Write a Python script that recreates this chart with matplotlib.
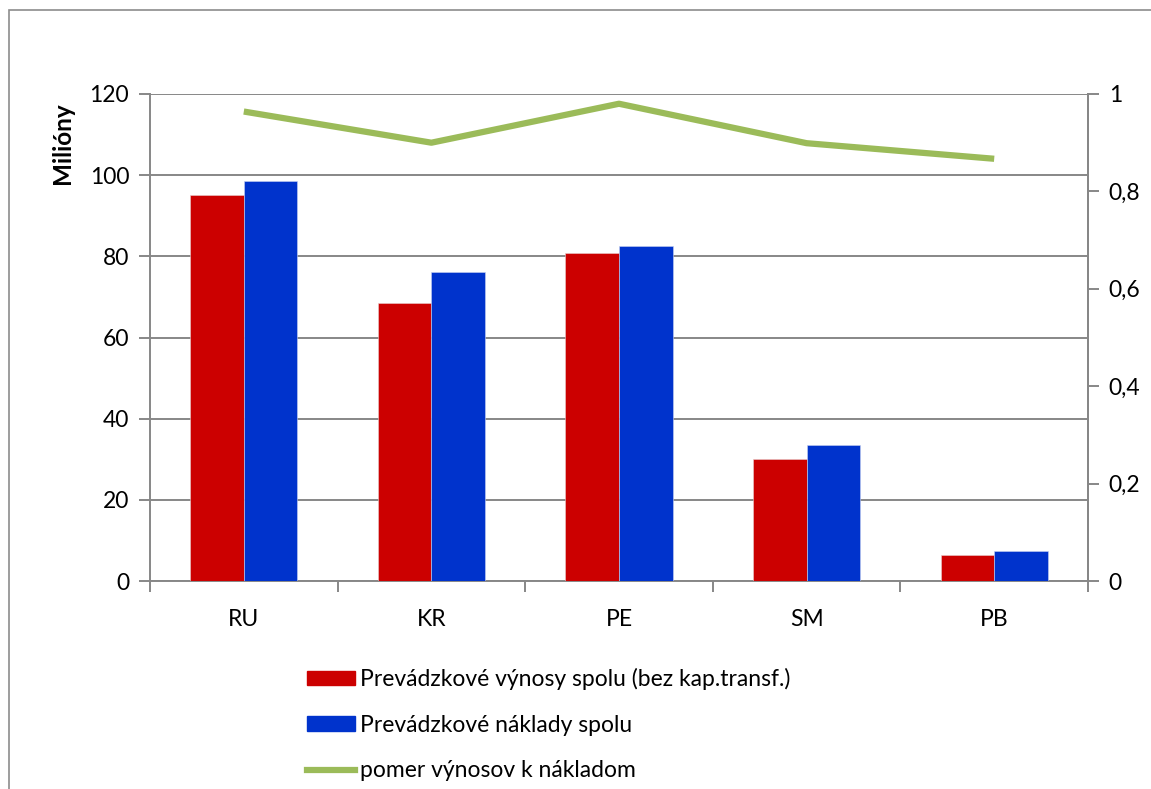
import matplotlib
matplotlib.use("Agg")
import matplotlib.pyplot as plt
from matplotlib.patches import Rectangle
from matplotlib.lines import Line2D
from matplotlib.ticker import FixedLocator, FuncFormatter
import numpy as np

plt.rcParams['font.family'] = ['Lato', 'DejaVu Sans']

categories = ["RU", "KR", "PE", "SM", "PB"]
revenues = [95.0, 68.4, 80.7, 30.1, 6.4]
costs = [98.5, 76.1, 82.6, 33.6, 7.4]
ratio = [0.964, 0.900, 0.980, 0.899, 0.867]
left_ticks = [0, 20, 40, 60, 80, 100, 120]
right_ticks = [0, 0.2, 0.4, 0.6, 0.8, 1.0]
series_names = ["Prevádzkové výnosy spolu (bez kap.transf.)",
                "Prevádzkové náklady spolu",
                "pomer výnosov k nákladom"]

RED = "#CC0000"
BLUE = "#0033CC"
GREEN = "#9BBB59"
GRID = "#878787"
FS = 16.5

W, H = 1151, 789
fig = plt.figure(figsize=(W / 100, H / 100), dpi=100)

# outer chart border
fig.patches.append(Rectangle((9 / W, -0.05), 1.2, 1 - 10 / H + 0.05,
                             transform=fig.transFigure, fill=False,
                             edgecolor="#8c8c8c", linewidth=1.2))

l, r = 150 / W, 1088 / W
b, t = 1 - 581 / H, 1 - 94 / H
ax = fig.add_axes([l, b, r - l, t - b])
ax2 = ax.twinx()

x = np.arange(len(categories))
bw = 1 / 3.5
ax.bar(x - bw / 2, revenues, bw, color=RED, edgecolor="#e8d0d0", linewidth=0.4, zorder=3)
ax.bar(x + bw / 2, costs, bw, color=BLUE, edgecolor="#c8d2f0", linewidth=0.4, zorder=3)
ax.set_xlim(-0.5, len(categories) - 0.5)
ax.set_ylim(0, 120)
ax.yaxis.set_major_locator(FixedLocator(left_ticks))
ax.grid(axis="y", color=GRID, linewidth=1.4, zorder=0)
ax.set_axisbelow(True)

ax.set_xticks(x)
ax.set_xticklabels(categories, fontsize=FS)
ax.xaxis.set_minor_locator(FixedLocator(np.arange(-0.5, len(categories), 1.0)))
ax.tick_params(axis="x", which="major", length=0, pad=20)
ax.tick_params(axis="x", which="minor", length=8, width=1.4, color=GRID)
ax.tick_params(axis="y", length=8, width=1.4, color=GRID, labelsize=FS, pad=7)

for side in ["left", "bottom", "right"]:
    ax.spines[side].set_color(GRID)
    ax.spines[side].set_linewidth(1.4)
ax.spines["top"].set_visible(False)
for side in ["top", "left", "bottom"]:
    ax2.spines[side].set_visible(False)
ax2.spines["right"].set_color(GRID)
ax2.spines["right"].set_linewidth(1.4)

ax2.plot(x, ratio, color=GREEN, linewidth=4.5, solid_capstyle="butt", zorder=4)
ax2.set_ylim(0, 1)
ax2.yaxis.set_major_locator(FixedLocator(right_ticks))
ax2.yaxis.set_major_formatter(FuncFormatter(lambda v, p: ("%g" % v).replace(".", ",")))
ax2.tick_params(axis="y", length=8, width=1.4, color=GRID, labelsize=FS, pad=7)

fig.text(62 / W, 1 - 143 / H, "Milióny", rotation=90, fontsize=17.5,
         fontweight="bold", ha="center", va="center")

handles = [Rectangle((0, 0), 1, 1, color=RED),
           Rectangle((0, 0), 1, 1, color=BLUE),
           Line2D([0], [0], color=GREEN, linewidth=4.5)]
leg = fig.legend(handles, series_names, loc="upper left",
                 bbox_to_anchor=(298 / W, 1 - 659 / H), frameon=False,
                 fontsize=FS, handlelength=2.1, handleheight=0.6,
                 handletextpad=0.2, labelspacing=1.07, borderaxespad=0)

fig.savefig("out.png", dpi=100)
